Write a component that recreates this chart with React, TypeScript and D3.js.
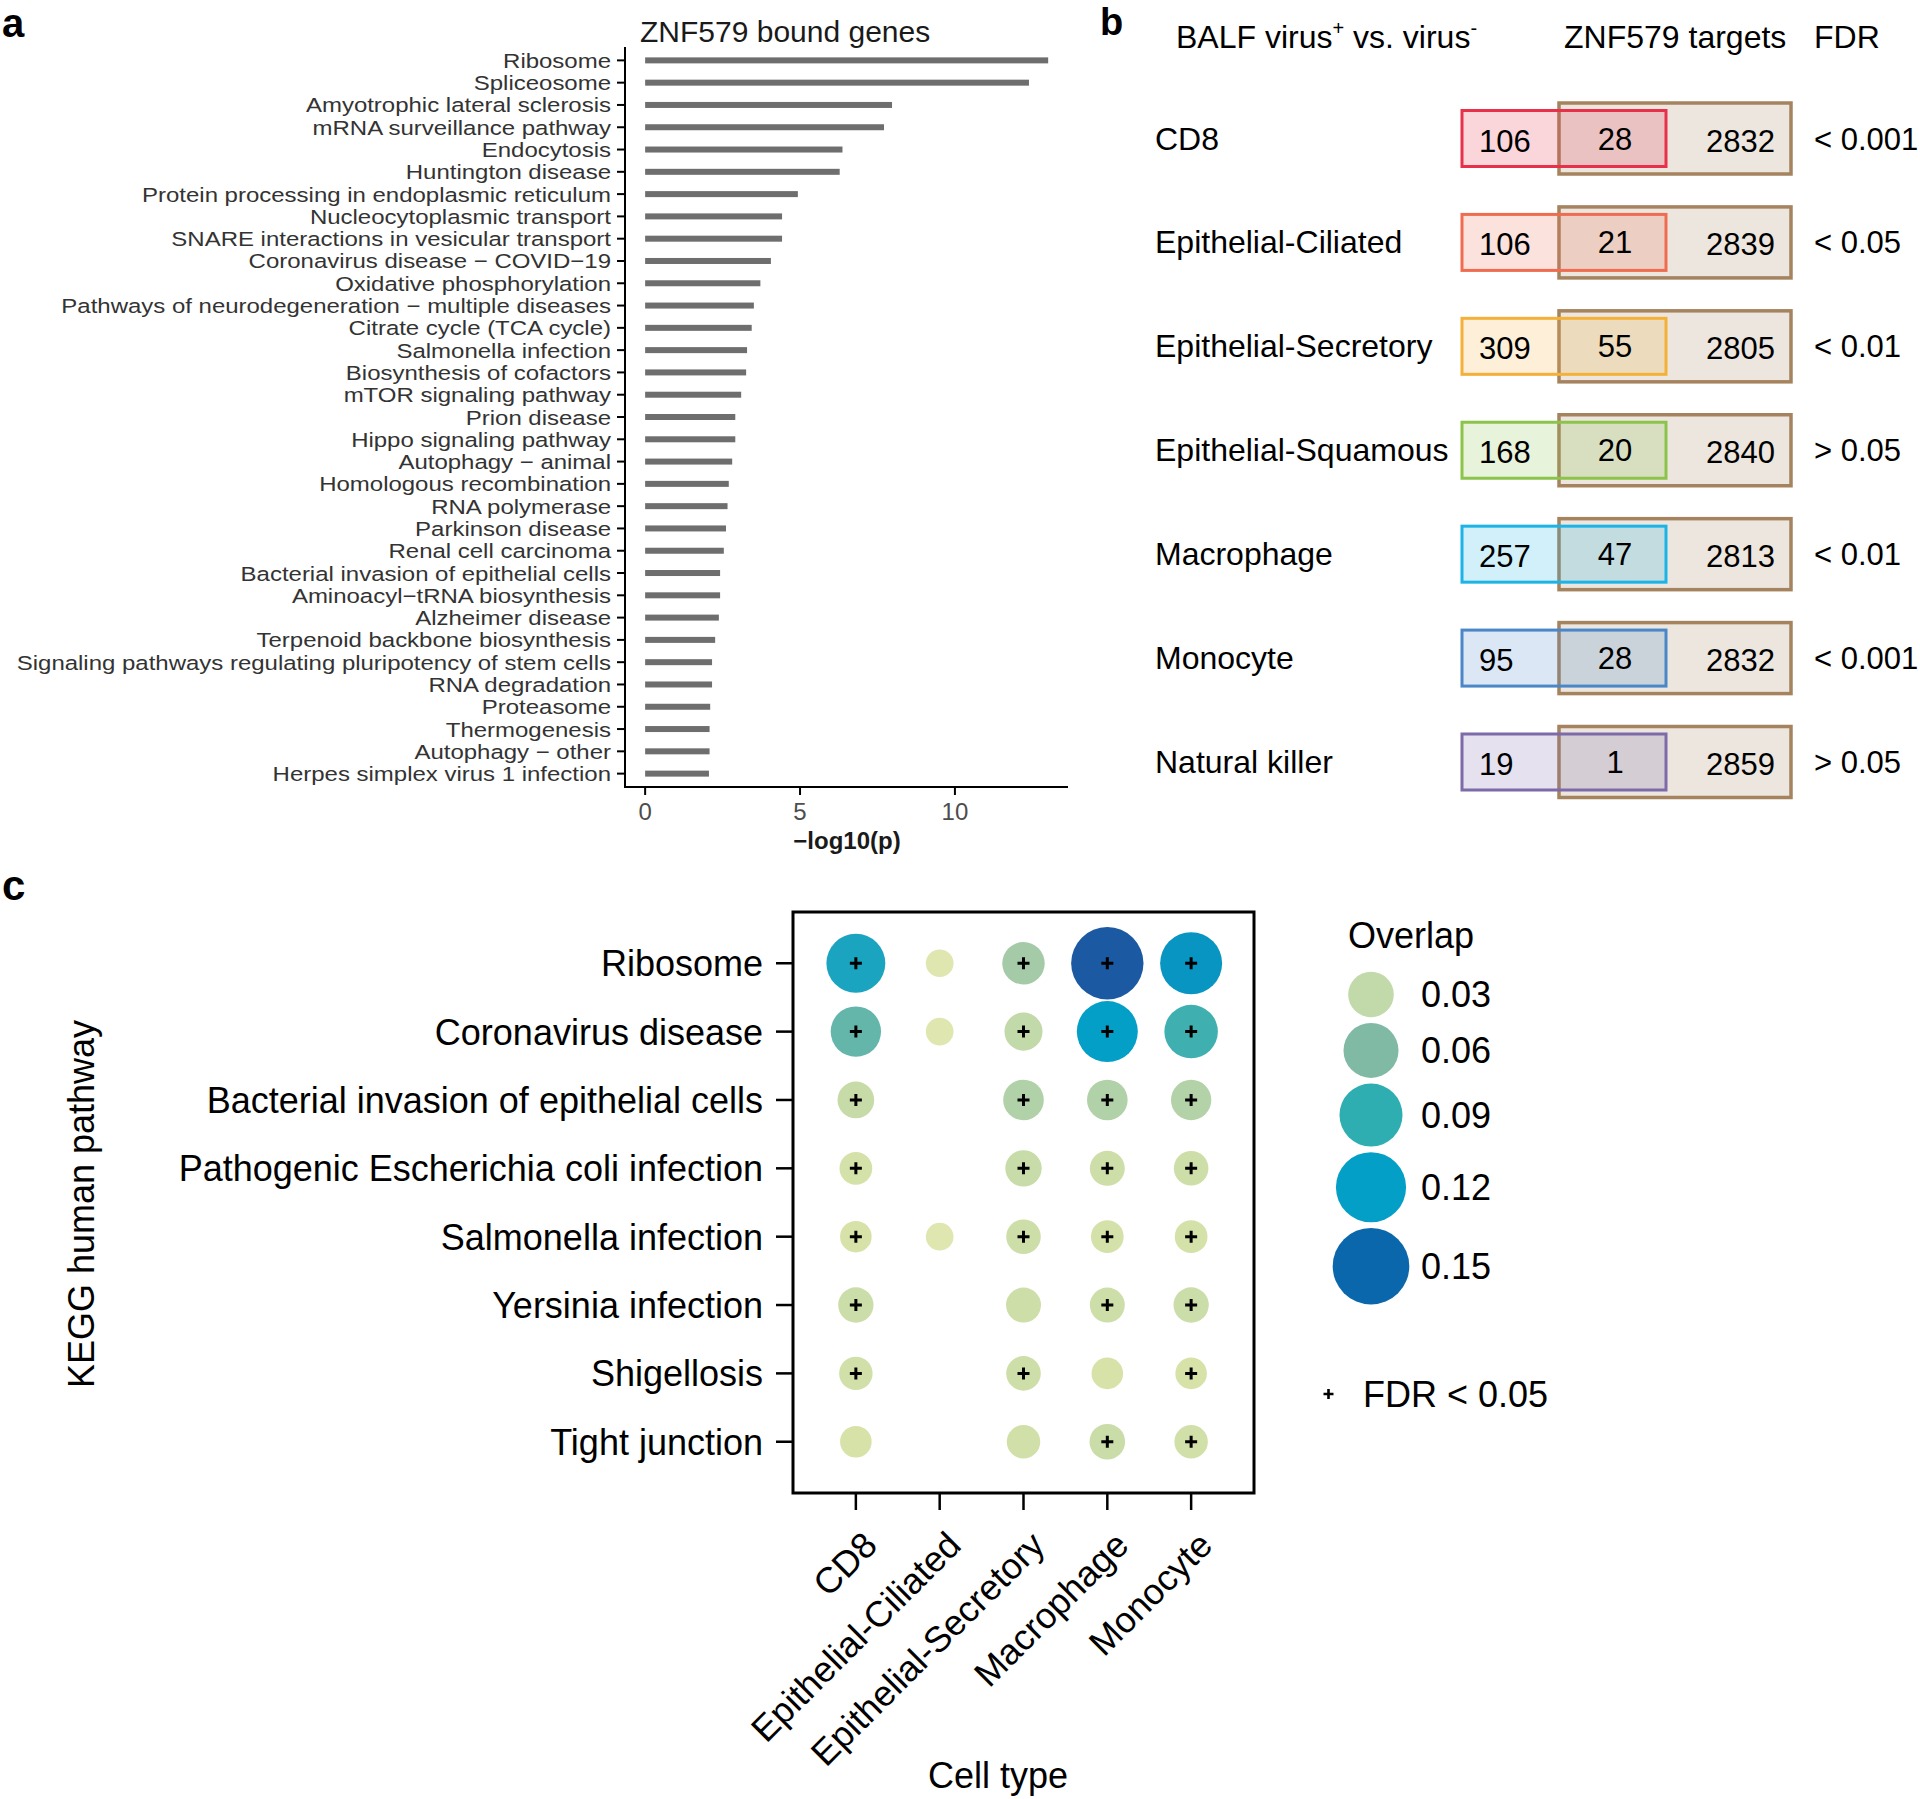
import React from "react";
import * as d3 from "d3";

const FONT = "'Liberation Sans', Arial, Helvetica, sans-serif";

// ---------------- Panel a data ----------------
const pathwaysA = [
  "Ribosome",
  "Spliceosome",
  "Amyotrophic lateral sclerosis",
  "mRNA surveillance pathway",
  "Endocytosis",
  "Huntington disease",
  "Protein processing in endoplasmic reticulum",
  "Nucleocytoplasmic transport",
  "SNARE interactions in vesicular transport",
  "Coronavirus disease \u2212 COVID\u221219",
  "Oxidative phosphorylation",
  "Pathways of neurodegeneration \u2212 multiple diseases",
  "Citrate cycle (TCA cycle)",
  "Salmonella infection",
  "Biosynthesis of cofactors",
  "mTOR signaling pathway",
  "Prion disease",
  "Hippo signaling pathway",
  "Autophagy \u2212 animal",
  "Homologous recombination",
  "RNA polymerase",
  "Parkinson disease",
  "Renal cell carcinoma",
  "Bacterial invasion of epithelial cells",
  "Aminoacyl\u2212tRNA biosynthesis",
  "Alzheimer disease",
  "Terpenoid backbone biosynthesis",
  "Signaling pathways regulating pluripotency of stem cells",
  "RNA degradation",
  "Proteasome",
  "Thermogenesis",
  "Autophagy \u2212 other",
  "Herpes simplex virus 1 infection",
];
const negLog10P = [
  13.01, 12.39, 7.97, 7.71, 6.37, 6.28, 4.93, 4.42, 4.42, 4.06, 3.72, 3.51,
  3.44, 3.29, 3.26, 3.1, 2.91, 2.91, 2.81, 2.7, 2.66, 2.61, 2.54, 2.42, 2.42,
  2.38, 2.26, 2.16, 2.16, 2.1, 2.08, 2.08, 2.06,
];
const xTicksA = [0, 5, 10];

// ---------------- Panel b data ----------------
const cellTypesB = [
  "CD8",
  "Epithelial-Ciliated",
  "Epithelial-Secretory",
  "Epithelial-Squamous",
  "Macrophage",
  "Monocyte",
  "Natural killer",
];
const virusOnly = [106, 106, 309, 168, 257, 95, 19];
const sharedCount = [28, 21, 55, 20, 47, 28, 1];
const znfOnly = [2832, 2839, 2805, 2840, 2813, 2832, 2859];
const fdrB = ["< 0.001", "< 0.05", "< 0.01", "> 0.05", "< 0.01", "< 0.001", "> 0.05"];
const cellColorsB = ["#e8304a", "#ef6c50", "#f3b13a", "#8cc34b", "#1cb3e6", "#4a86c8", "#7d6aa9"];

// ---------------- Panel c data ----------------
const cellTypesC = ["CD8", "Epithelial-Ciliated", "Epithelial-Secretory", "Macrophage", "Monocyte"];
const pathwaysC = [
  "Ribosome",
  "Coronavirus disease",
  "Bacterial invasion of epithelial cells",
  "Pathogenic Escherichia coli infection",
  "Salmonella infection",
  "Yersinia infection",
  "Shigellosis",
  "Tight junction",
];
// overlap per cell type, in pathway order (null = not present)
const overlapCD8 = [0.11, 0.073, 0.026, 0.015, 0.012, 0.022, 0.017, 0.012];
const overlapCiliated = [0.003, 0.003, null, null, 0.003, null, null, null];
const overlapSecretory = [0.044, 0.03, 0.038, 0.025, 0.02, 0.021, 0.02, 0.017];
const overlapMacrophage = [0.18, 0.12, 0.038, 0.021, 0.015, 0.021, 0.012, 0.023];
const overlapMonocyte = [0.125, 0.086, 0.037, 0.02, 0.015, 0.022, 0.012, 0.017];
// FDR < 0.05 flags
const sigCD8 = [1, 1, 1, 1, 1, 1, 1, 0];
const sigCiliated = [0, 0, 0, 0, 0, 0, 0, 0];
const sigSecretory = [1, 1, 1, 1, 1, 0, 1, 0];
const sigMacrophage = [1, 1, 1, 1, 1, 1, 0, 1];
const sigMonocyte = [1, 1, 1, 1, 1, 1, 1, 1];
const overlapBreaks = [0.03, 0.06, 0.09, 0.12, 0.15];

const colorStops = [0, 0.012, 0.03, 0.06, 0.09, 0.12, 0.15, 0.19];
const colorStopColors = ["#e2e7b3", "#d7e2a9", "#c2d9a9", "#80baa4", "#2eaeb1", "#039fc6", "#0a67ab", "#1e55a0"];

const overlapByCell = [overlapCD8, overlapCiliated, overlapSecretory, overlapMacrophage, overlapMonocyte];
const sigByCell = [sigCD8, sigCiliated, sigSecretory, sigMacrophage, sigMonocyte];

function Plus({ x, y, s = 6, w = 3 }: { x: number; y: number; s?: number; w?: number }) {
  return (
    <path
      d={`M${x - s},${y}H${x + s}M${x},${y - s}V${y + s}`}
      stroke="#000"
      strokeWidth={w}
      fill="none"
    />
  );
}

export default function App() {
  // ---------- panel a scales ----------
  const xA = d3.scaleLinear().domain([-0.65, 13.65]).range([625, 1068]);
  const yA = d3.scalePoint<string>().domain(pathwaysA).range([47, 787]).padding(0.6);

  // ---------- panel b scales ----------
  const yB = d3.scalePoint<string>().domain(cellTypesB).range([138.5, 762]);

  // ---------- panel c scales ----------
  const xC = d3.scalePoint<string>().domain(cellTypesC).range([793, 1254]).padding(0.75);
  const yC = d3.scalePoint<string>().domain(pathwaysC).range([912, 1493]).padding(0.75);
  const rC = d3.scaleRadial().domain([0, 0.2]).range([Math.sqrt(173), Math.sqrt(173 + 6309 * 0.2)]);
  // legend keys are drawn larger than the panel points (as in the original figure)
  const rLegend = d3.scaleRadial().domain([0, 0.2]).range([Math.sqrt(283.2), Math.sqrt(283.2 + 7892 * 0.2)]);
  const colC = d3
    .scaleLinear<string>()
    .domain(colorStops)
    .range(colorStopColors)
    .interpolate(d3.interpolateLab)
    .clamp(true);

  const dots: { cell: string; path: string; v: number; sig: boolean }[] = [];
  cellTypesC.forEach((cell, ci) => {
    pathwaysC.forEach((p, pi) => {
      const v = overlapByCell[ci][pi];
      if (v != null) dots.push({ cell, path: p, v, sig: sigByCell[ci][pi] === 1 });
    });
  });

  // legend layout
  const legendCenters: number[] = [];
  let cy = 994.5;
  overlapBreaks.forEach((b, i) => {
    if (i > 0) cy += rLegend(overlapBreaks[i - 1]) + rLegend(b) + 5.6;
    legendCenters.push(cy);
  });

  const boxL = 1462, boxLW = 204, boxLH = 56;
  const boxR = 1559, boxRW = 232, boxRH = 71;

  return (
    <svg
      width={1920}
      height={1799}
      style={{ position: "absolute", left: 0, top: 0, display: "block" }}
      fontFamily={FONT}
    >
      <rect x={0} y={0} width={1920} height={1799} fill="#fff" />

      {/* ================= Panel a ================= */}
      <text x={2} y={37} fontSize={40} fontWeight="bold" fill="#000">a</text>
      <text x={640} y={42} fontSize={30} fill="#1a1a1a">ZNF579 bound genes</text>
      {pathwaysA.map((p, i) => (
        <g key={p}>
          <rect
            x={xA(0)}
            y={(yA(p) as number) - 3}
            width={xA(negLog10P[i]) - xA(0)}
            height={6}
            fill="#6e6e6e"
          />
          <line x1={617} x2={625} y1={yA(p)} y2={yA(p)} stroke="#000" strokeWidth={2} />
          <g transform={`translate(611,${(yA(p) as number) + 7.5}) scale(1.17,1)`}>
            <text x={0} y={0} fontSize={20.5} textAnchor="end" fill="#333">
              {p}
            </text>
          </g>
        </g>
      ))}
      <line x1={625} x2={625} y1={47} y2={788} stroke="#000" strokeWidth={2} />
      <line x1={624} x2={1068} y1={787} y2={787} stroke="#000" strokeWidth={2} />
      {xTicksA.map((t) => (
        <g key={t}>
          <line x1={xA(t)} x2={xA(t)} y1={787} y2={795} stroke="#000" strokeWidth={2} />
          <text x={xA(t)} y={820} fontSize={24} textAnchor="middle" fill="#4d4d4d">
            {t}
          </text>
        </g>
      ))}
      <text x={847} y={849} fontSize={24} fontWeight="bold" textAnchor="middle" fill="#1a1a1a">
        {"\u2212log10(p)"}
      </text>

      {/* ================= Panel b ================= */}
      <text x={1100} y={35} fontSize={38} fontWeight="bold" fill="#000">b</text>
      <text x={1176} y={48} fontSize={32} fill="#000">
        BALF virus
        <tspan fontSize={20} dy={-13}>+</tspan>
        <tspan dy={13}> vs. virus</tspan>
        <tspan fontSize={20} dy={-13}>-</tspan>
      </text>
      <text x={1564} y={48} fontSize={32} fill="#000">ZNF579 targets</text>
      <text x={1814} y={48} fontSize={32} fill="#000">FDR</text>
      {cellTypesB.map((c, i) => {
        const y = yB(c) as number;
        const col = cellColorsB[i];
        return (
          <g key={c}>
            <text x={1155} y={y + 11} fontSize={32} fill="#000">{c}</text>
            <rect
              x={boxR}
              y={y - boxRH / 2}
              width={boxRW}
              height={boxRH}
              fill="#ece6df"
              stroke="#a5835f"
              strokeWidth={3.5}
            />
            <rect
              x={boxL}
              y={y - boxLH / 2}
              width={boxLW}
              height={boxLH}
              fill={col}
              fillOpacity={0.2}
              stroke={col}
              strokeWidth={3}
            />
            <text x={1479} y={y + 13} fontSize={31} fill="#000">{virusOnly[i]}</text>
            <text x={1615} y={y + 11} fontSize={31} textAnchor="middle" fill="#000">{sharedCount[i]}</text>
            <text x={1775} y={y + 13} fontSize={31} textAnchor="end" fill="#000">{znfOnly[i]}</text>
            <text x={1814} y={y + 11} fontSize={31} fill="#000">{fdrB[i]}</text>
          </g>
        );
      })}

      {/* ================= Panel c ================= */}
      <text x={2} y={900} fontSize={42} fontWeight="bold" fill="#000">c</text>
      {dots.map((d) => (
        <g key={d.cell + d.path}>
          <circle cx={xC(d.cell)} cy={yC(d.path)} r={rC(d.v)} fill={colC(d.v)} />
          {d.sig && <Plus x={xC(d.cell) as number} y={yC(d.path) as number} />}
        </g>
      ))}
      <rect x={793} y={912} width={461} height={581} fill="none" stroke="#000" strokeWidth={3} />
      {pathwaysC.map((p) => (
        <g key={p}>
          <line x1={776} x2={793} y1={yC(p)} y2={yC(p)} stroke="#000" strokeWidth={2.5} />
          <text x={763} y={(yC(p) as number) + 13} fontSize={36} textAnchor="end" fill="#000">
            {p}
          </text>
        </g>
      ))}
      {cellTypesC.map((c) => {
        const x = xC(c) as number;
        return (
          <g key={c}>
            <line x1={x} x2={x} y1={1493} y2={1510} stroke="#000" strokeWidth={2.5} />
            <text
              transform={`translate(${x + 5},${1529}) rotate(-45)`}
              textAnchor="end"
              dy="0.72em"
              fontSize={36}
              fill="#000"
            >
              {c}
            </text>
          </g>
        );
      })}
      <text x={998} y={1788} fontSize={36} textAnchor="middle" fill="#000">Cell type</text>
      <text
        transform={`translate(94,1204) rotate(-90)`}
        fontSize={36}
        textAnchor="middle"
        fill="#000"
      >
        KEGG human pathway
      </text>

      {/* legend */}
      <text x={1348} y={948} fontSize={36} fill="#000">Overlap</text>
      {overlapBreaks.map((b, i) => (
        <g key={b}>
          <circle cx={1371} cy={legendCenters[i]} r={rLegend(b)} fill={colC(b)} />
          <text x={1421} y={legendCenters[i] + 12.5} fontSize={36} fill="#000">
            {b.toFixed(2)}
          </text>
        </g>
      ))}
      <Plus x={1328.5} y={1394} s={5} w={2.6} />
      <text x={1363} y={1407} fontSize={36} fill="#000">FDR &lt; 0.05</text>
    </svg>
  );
}
